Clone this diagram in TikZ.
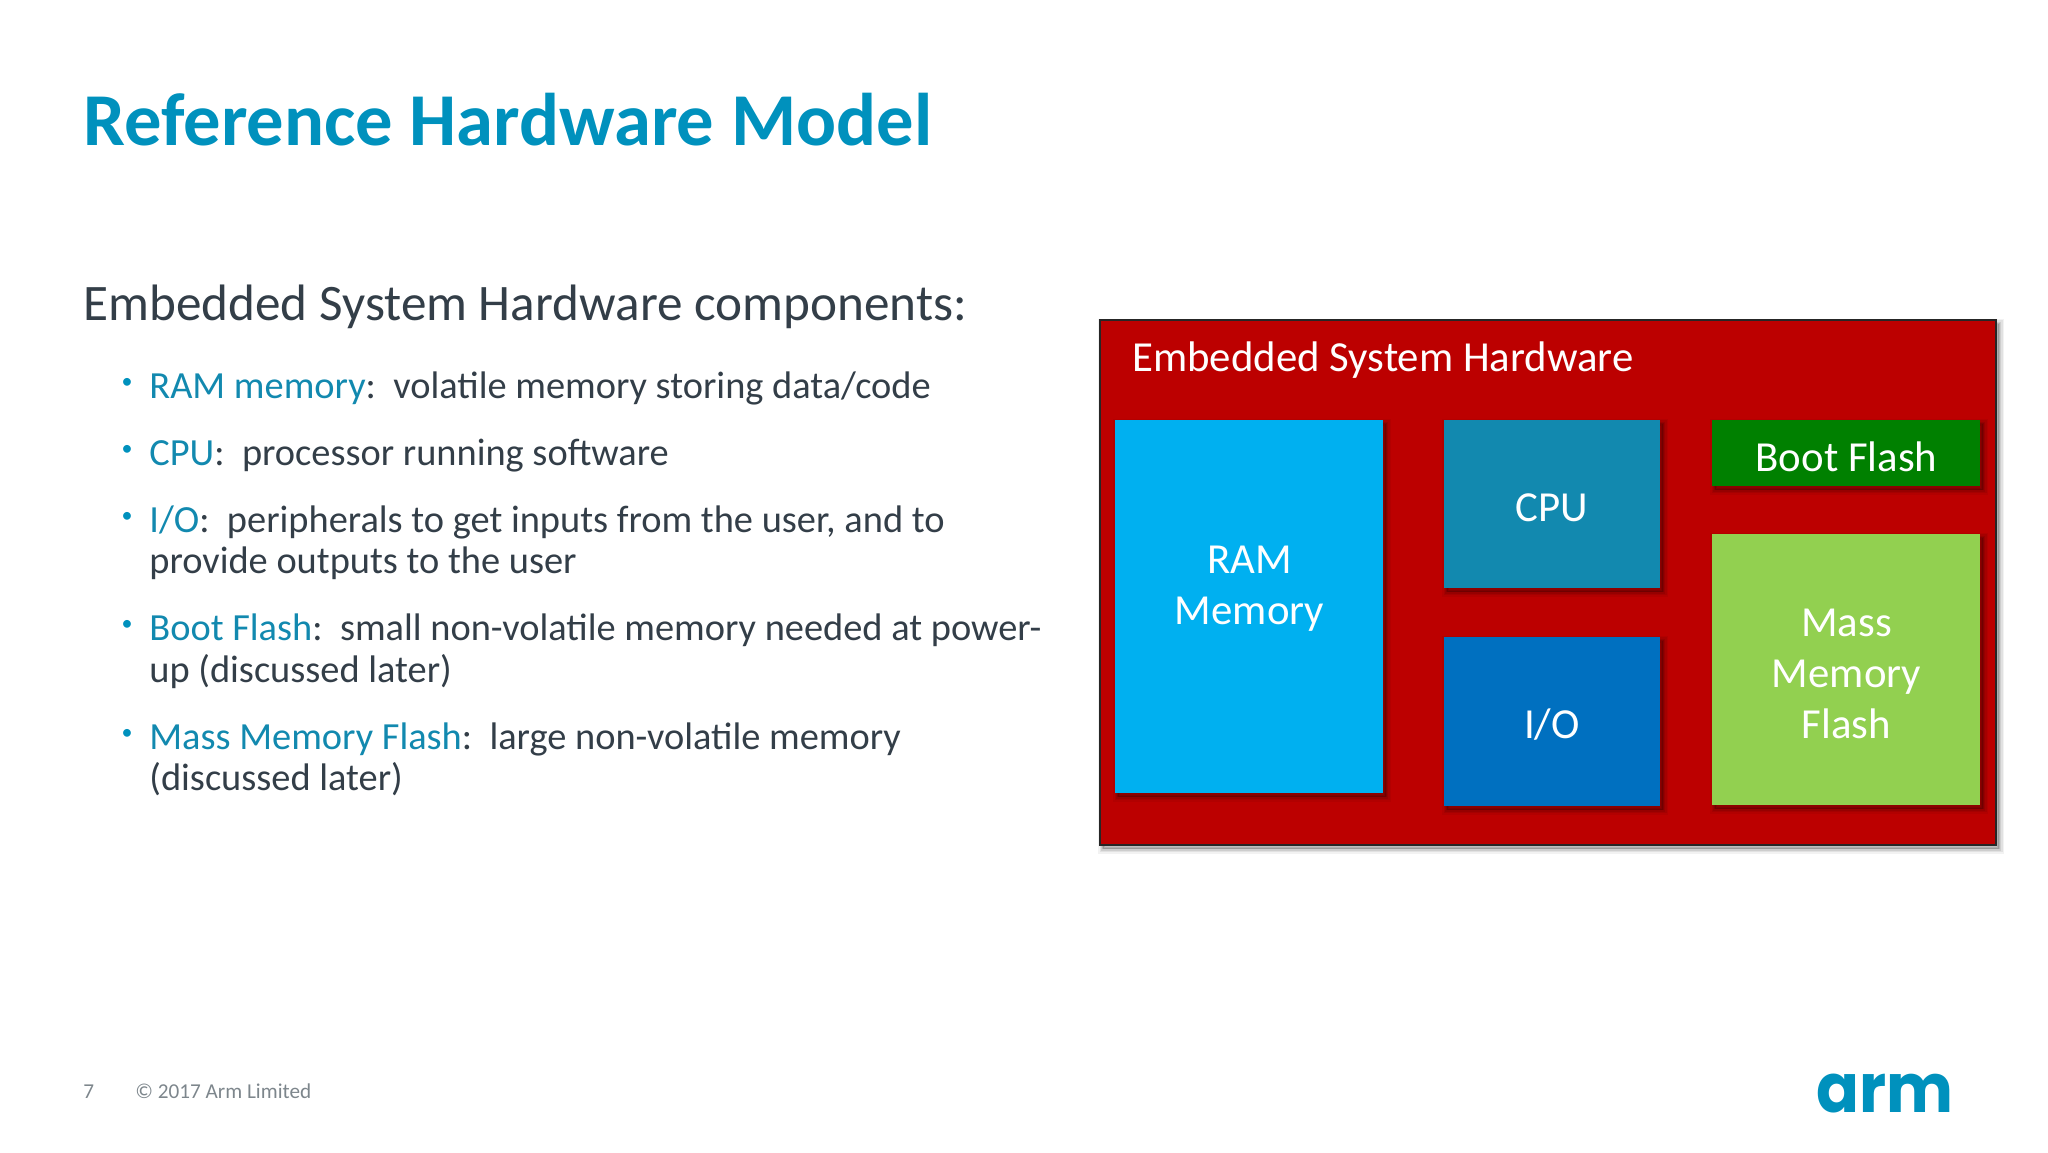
\documentclass[tikz,border=0pt]{standalone}
\usepackage{fontspec}
\setmainfont{Carlito}
\newfontfamily\logofont{Poppins}
\definecolor{armblue}{HTML}{0091BD}
\definecolor{bodyink}{HTML}{333E48}
\definecolor{termblue}{HTML}{1289AF}
\definecolor{footgrey}{HTML}{7D868C}
\definecolor{hwred}{HTML}{BC0000}
\definecolor{ramblue}{HTML}{00B0F0}
\definecolor{cpublue}{HTML}{1289AF}
\definecolor{ioblue}{HTML}{0070C0}
\definecolor{bootgreen}{HTML}{008000}
\definecolor{massgreen}{HTML}{92D050}
\newcommand{\fs}[1]{\fontsize{#1}{#1}\selectfont}
\newcommand{\term}[1]{\textcolor{termblue}{#1}}
\tikzset{
  softshadow/.style={
    preaction={draw=black,line width=5pt,opacity=.05,transform canvas={shift={(1.6pt,-1.8pt)}}},
    preaction={draw=black,line width=3.5pt,opacity=.07,transform canvas={shift={(1.6pt,-1.8pt)}}},
    preaction={draw=black,line width=2pt,opacity=.09,transform canvas={shift={(1.6pt,-1.8pt)}}},
    preaction={draw=black,line width=.8pt,opacity=.12,transform canvas={shift={(1.6pt,-1.8pt)}}},
    preaction={fill=black,opacity=.15,transform canvas={shift={(1.6pt,-1.8pt)}}}},
  txt/.style={inner sep=0pt,anchor=base west,text=bodyink,font=\fs{19.2}},
  hwbox/.style={softshadow,inner sep=0pt},
  hwlabel/.style={inner sep=0pt,text=white,align=center,font=\fs{21.4}\setlength{\baselineskip}{25.6pt}},
  dot/.style={inner sep=0pt,text=armblue,font=\fs{11}},
}
\begin{document}
\begin{tikzpicture}[x=.5pt,y=-.5pt]
\useasboundingbox (0,0) rectangle (2048,1152);
\node[txt,text=armblue,font=\fs{37.3}\bfseries] (title) at (83,145) {Reference Hardware Model};
\node[txt,font=\fs{25.6}] (head) at (83,320) {Embedded System Hardware components:};
\node[dot] (b1) at (127,383) {•};
\node[dot] (b2) at (127,450) {•};
\node[dot] (b3) at (127,517) {•};
\node[dot] (b4) at (127,625) {•};
\node[dot] (b5) at (127,734) {•};
\node[txt] (l1) at (149,398) {\term{RAM memory}:\ \ volatile memory storing data/code};
\node[txt] (l2) at (149,465) {\term{CPU}:\ \ processor running software};
\node[txt] (l3) at (149,532) {\term{I/O}:\ \ peripherals to get inputs from the user, and to};
\node[txt] (l3b) at (149,573) {provide outputs to the user};
\node[txt] (l4) at (149,640) {\term{Boot Flash}:\ \ small non-volatile memory needed at power-};
\node[txt] (l4b) at (149,682) {up (discussed later)};
\node[txt] (l5) at (149,749) {\term{Mass Memory Flash}:\ \ large non-volatile memory};
\node[txt] (l5b) at (149,790) {(discussed later)};
\node[softshadow,fill=hwred,draw=black!85,line width=.8pt,minimum width=448pt,minimum height=262.5pt,inner sep=0pt] (hw) at (1548,582.5) {};
\node[inner sep=0pt,anchor=base west,text=white,font=\fs{21.4}] (hwt) at (1132,371) {Embedded System Hardware};
\node[hwbox,fill=ramblue,minimum width=134pt,minimum height=186.5pt] (ram) at (1249,606.5) {};
\node[hwlabel] (ramt) at (1249.5,589) {RAM\\Memory};
\node[hwbox,fill=cpublue,minimum width=108pt,minimum height=84pt] (cpu) at (1552,504) {};
\node[hwlabel] (cput) at (1552,508) {CPU};
\node[hwbox,fill=ioblue,minimum width=108pt,minimum height=84.5pt] (io) at (1552,721.5) {};
\node[hwlabel] (iot) at (1552,725) {I/O};
\node[hwbox,fill=bootgreen,minimum width=134pt,minimum height=33pt] (boot) at (1846,453) {};
\node[hwlabel] (boott) at (1846.5,456.5) {Boot Flash};
\node[hwbox,fill=massgreen,minimum width=134pt,minimum height=135.5pt] (mass) at (1846,669.5) {};
\node[hwlabel] (masst) at (1846.5,674) {Mass\\Memory\\Flash};
\node[inner sep=0pt,anchor=base west,text=footgrey,font=\fs{10.6}] (pg) at (83,1098) {7};
\node[inner sep=0pt,anchor=base west,text=footgrey,font=\fs{10.6}] (copy) at (135,1098) {© 2017 Arm Limited};
\node[inner sep=0pt,anchor=base west,text=armblue,font=\logofont\bfseries\fs{34}] (logo) at (1816,1112) {\scalebox{.93}[1]{arm}};
\end{tikzpicture}
\end{document}
